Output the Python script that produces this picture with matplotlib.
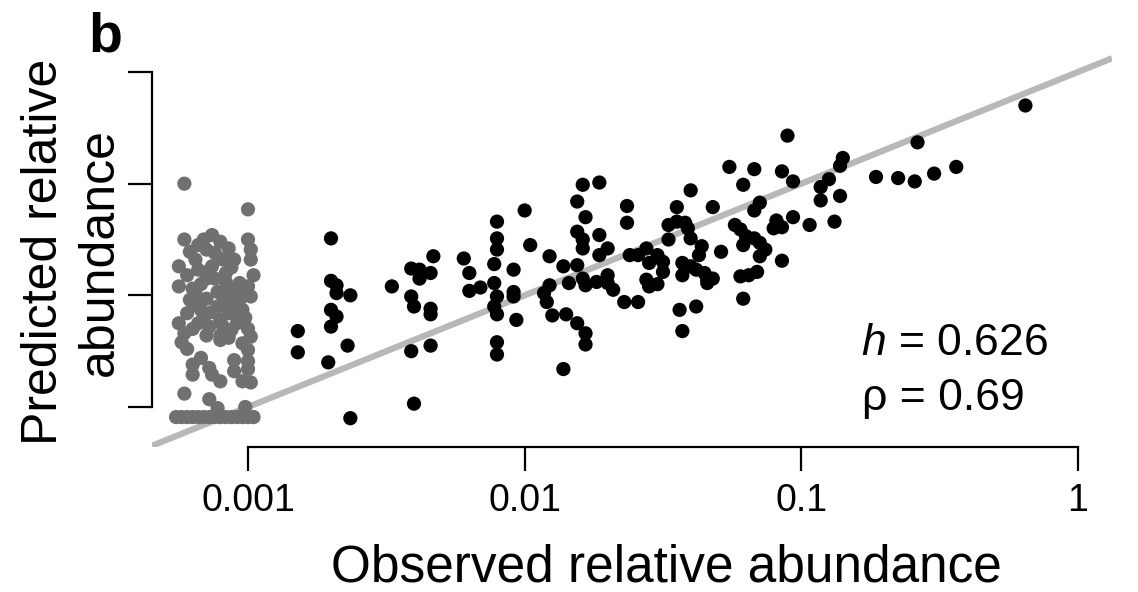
import numpy as np
import matplotlib
matplotlib.use("Agg")
from matplotlib import pyplot as plt

plt.rcParams['font.family'] = ['Liberation Sans', 'DejaVu Sans']
plt.rcParams['mathtext.fontset'] = 'custom'
plt.rcParams['mathtext.rm'] = 'Liberation Sans'
plt.rcParams['mathtext.it'] = 'Liberation Sans:italic'

# log10 observed / predicted relative abundance, species seen in the samples
obs_log = [-2.70, -2.70, -2.68, -2.68, -2.63, -2.70, -2.68, -2.70, -2.82, -2.82,
           -2.64, -2.71, -2.63, -2.48, -2.41, -2.38, -2.38, -2.33, -2.34, -2.41,
           -2.40, -2.34, -2.34, -2.34, -2.41, -2.40, -2.22, -2.20, -2.20, -2.16,
           -2.11, -2.10, -2.10, -2.10, -2.11, -2.10, -2.11, -2.10, -2.10, -2.10,
           -2.04, -2.04, -2.04, -2.03, -2.00, -1.98,
           -1.91, -1.86, -1.81, -1.93, -1.92, -1.91, -1.90, -1.85, -1.81, -1.78,
           -1.78, -1.86, -1.84, -1.79, -1.73, -1.81, -1.78, -1.81, -1.79, -1.79,
           -1.73, -1.70, -1.73, -1.79, -1.78, -1.74, -1.70, -1.70, -1.68, -1.63,
           -1.63, -1.62, -1.59, -1.56, -1.55, -1.52, -1.50, -1.50, -1.56, -1.55,
           -1.52, -1.64, -1.59, -1.48, -1.45, -1.48, -1.45, -1.42, -1.41, -1.40,
           -1.40, -1.36, -1.37, -1.43, -1.40, -1.43, -1.38, -1.35, -1.34, -1.32,
           -1.34, -1.44, -1.38, -1.43, -1.29, -1.32, -1.26, -1.17, -1.21, -1.15,
           -1.17, -1.24, -1.22, -1.20, -1.21, -1.17, -1.15, -1.13, -1.15, -1.22,
           -1.19, -1.16, -1.21, -1.09, -1.10, -1.07, -1.03, -0.97, -1.07, -1.07,
           -1.03, -1.05,
           -0.19, -0.58, -0.85, -0.86, -0.90, -0.93, -0.93, -0.86, -0.88, -0.73,
           -0.65, -0.59, -0.52, -0.44]
pred_log = [-1.49, -1.87, -1.91, -1.98, -2.00, -2.13, -2.19, -2.28, -2.32, -2.51,
            -2.45, -2.60, -3.10, -1.92, -1.76, -1.77, -1.85, -1.65, -1.80, -2.01,
            -2.10, -2.12, -2.17, -2.45, -2.50, -2.97, -1.67, -1.80, -1.96, -1.93,
            -1.89, -1.34, -1.49, -1.59, -1.72, -2.01, -2.10, -2.17, -2.42, -2.53,
            -1.77, -1.97, -2.01, -2.22, -1.24, -1.55,
            -1.65, -1.74, -1.73, -1.98, -2.06, -1.91, -2.18, -2.17, -2.25, -2.34,
            -2.44, -2.66, -1.89, -1.01, -0.99, -1.16, -1.30, -1.43, -1.50, -1.58,
            -1.46, -1.58, -1.64, -1.85, -1.91, -1.88, -1.82, -1.89, -1.95, -1.20,
            -1.35, -1.64, -1.64, -1.58, -1.71, -1.64, -1.70, -1.79, -1.86, -1.92,
            -1.90, -2.06, -2.06, -1.37, -1.21, -1.50, -1.34, -1.35, -1.40, -1.49,
            -1.06, -1.56, -1.64, -1.71, -1.74, -1.82, -1.77, -1.80, -1.86, -1.85,
            -1.89, -2.13, -2.10, -2.32, -1.61, -1.21, -0.85, -0.87, -1.01, -1.17,
            -1.24, -1.37, -1.41, -1.47, -1.55, -1.49, -1.53, -1.59, -1.65, -1.83,
            -1.82, -1.79, -2.03, -1.33, -1.40, -1.39, -1.30, -1.37, -1.69, -0.89,
            -0.98, -0.57,
            -0.30, -0.63, -0.77, -0.84, -0.96, -1.03, -1.15, -1.11, -1.34, -0.94,
            -0.95, -0.98, -0.91, -0.85]

# species never observed: jittered position left of 0.001, log10 predicted
zero_x_log = [-3.23, -3.00, -3.23, -3.16, -3.13, -3.10, -3.07, -3.00, -3.21, -3.15,
              -3.05, -2.99, -2.99, -3.25, -3.19, -3.18, -3.13, -3.09, -2.98, -3.22,
              -3.15, -3.08, -3.03, -3.25, -3.20, -3.11, -3.07, -3.00, -3.21, -3.15,
              -3.09, -3.03, -2.99, -3.22, -3.17, -3.13, -3.07, -3.02, -3.25, -3.18,
              -3.14, -3.09, -3.04, -3.23, -3.15, -3.10, -3.07, -2.99, -3.24, -3.02,
              -3.05, -3.00, -3.20, -3.14, -3.20, -3.13, -3.10, -3.02, -2.99, -3.23,
              -3.14, -3.11, -3.01,
              -3.18, -3.12, -3.06, -3.17, -3.12, -3.05, -3.19, -3.11, -3.05, -3.16,
              -3.10, -3.01, -3.20, -3.06, -3.00, -3.00, -3.00, -3.05, -3.17, -3.22,
              -3.08, -3.14, -3.03, -3.19, -3.10, -3.04]
zero_pred_log = [-1.00, -1.23, -1.50, -1.50, -1.46, -1.52, -1.58, -1.50, -1.61, -1.59,
                 -1.68, -1.59, -1.68, -1.74, -1.68, -1.77, -1.74, -1.68, -1.82, -1.82,
                 -1.85, -1.80, -1.89, -1.92, -1.94, -1.97, -1.98, -1.92, -2.04, -2.03,
                 -2.07, -2.04, -2.01, -2.16, -2.13, -2.15, -2.16, -2.13, -2.25, -2.25,
                 -2.28, -2.28, -2.25, -2.34, -2.36, -2.36, -2.38, -2.37, -2.42, -2.43,
                 -2.58, -2.59, -2.62, -2.65, -2.71, -2.71, -2.77, -2.77, -2.78, -2.88,
                 -2.93, -3.01, -3.00,
                 -1.55, -1.62, -1.75, -1.90, -1.85, -1.95, -2.08, -2.10, -2.08, -2.20,
                 -2.22, -2.20, -2.30, -2.31, -2.30, -2.49, -2.66, -2.68, -2.56, -2.48,
                 -1.88, -1.78, -2.00, -1.98, -2.40, -2.18]

# never observed and predicted at the floor value
floor_x_log = [-3.26, -3.24, -3.22, -3.20, -3.18, -3.16, -3.14, -3.12, -3.10, -3.08,
               -3.06, -3.04, -3.02, -3.00, -2.98]
floor_pred_log = -3.09

tick_vals = [0.001, 0.01, 0.1, 1]
tick_labels = ['0.001', '0.01', '0.1', '1']
h_val = 0.626
rho_val = 0.69

W, H = 1138, 592
fig = plt.figure(figsize=(W / 100, H / 100), dpi=100)
ax = fig.add_axes([152 / W, 1 - 447 / H, (1112 - 152) / W, (447 - 55) / H])
ax.set_xscale('log')
ax.set_yscale('log')
xlim = (10 ** -3.347, 10 ** 0.123)
ylim = (10 ** -3.358, 10 ** 0.152)
ax.set_xlim(xlim)
ax.set_ylim(ylim)

# 1:1 line
ax.plot(xlim, xlim, color='#b8b8b8', lw=4.5, solid_capstyle='butt', zorder=1)

ax.scatter(10 ** np.array(zero_x_log), 10 ** np.array(zero_pred_log),
           s=105, color='#707070', edgecolors='none', zorder=2)
ax.scatter(10 ** np.array(floor_x_log), np.full(len(floor_x_log), 10 ** floor_pred_log),
           s=105, color='#707070', edgecolors='none', zorder=2)
ax.scatter(10 ** np.array(obs_log), 10 ** np.array(pred_log),
           s=105, color='black', edgecolors='none', zorder=3)

for side in ['top', 'right']:
    ax.spines[side].set_visible(False)
for side in ['left', 'bottom']:
    ax.spines[side].set_linewidth(1.6)
    ax.spines[side].set_bounds(0.001, 1)
ax.set_xticks(tick_vals)
ax.set_xticklabels(tick_labels)
ax.set_yticks(tick_vals)
ax.set_yticklabels([])
ax.minorticks_off()
ax.tick_params(axis='both', direction='out', length=17, width=1.6, labelsize=27)
ax.tick_params(axis='x', pad=9)

fig.text(666 / W, 1 - 568 / H, 'Observed relative abundance', fontsize=37,
         ha='center', va='center')
fig.text(72 / W, 1 - 252 / H, 'Predicted relative\nabundance', fontsize=36,
         rotation=90, ha='center', va='center', multialignment='center',
         linespacing=1.25)
fig.text(88 / W, 1 - 52 / H, 'b', fontsize=40, fontweight='bold',
         ha='left', va='baseline')
fig.text(861 / W, 1 - 355 / H, '$h$ = %.3f' % h_val, fontsize=32,
         ha='left', va='baseline')
fig.text(862 / W, 1 - 410 / H, '\u03c1 = %.2f' % rho_val, fontsize=32,
         ha='left', va='baseline')

fig.savefig('out.png', dpi=100)
